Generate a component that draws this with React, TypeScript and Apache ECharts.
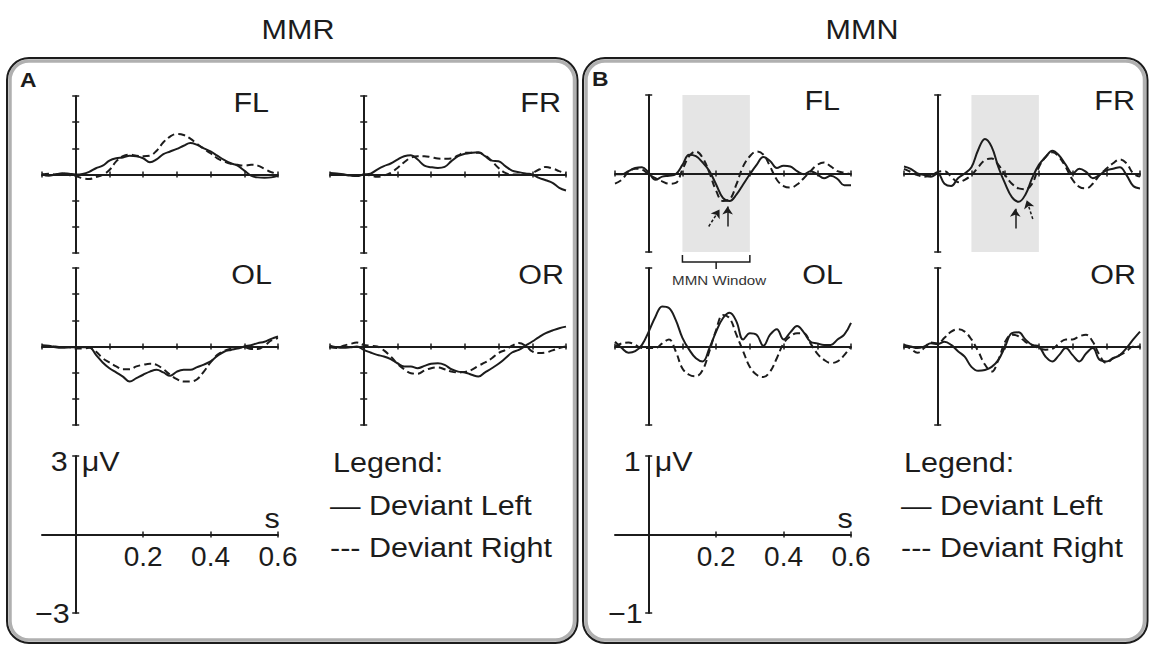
import React, { useEffect, useRef } from "react";
import * as echarts from "echarts";

// ---------- data ----------
const TIME = [-0.1, -0.08, -0.06, -0.04, -0.02, 0, 0.02, 0.04, 0.06, 0.08, 0.1, 0.12, 0.14, 0.16, 0.18, 0.2, 0.22, 0.24, 0.26, 0.28, 0.3, 0.32, 0.34, 0.36, 0.38, 0.4, 0.42, 0.44, 0.46, 0.48, 0.5, 0.52, 0.54, 0.56, 0.58, 0.6];

const SCALE_TICKS = [0.2, 0.4, 0.6];
const MMN_WINDOW = [0.1, 0.3];

// MMR (µV, ±3 scale)
const MMR_FL_LEFT = [0.02, -0.05, 0.0, 0.05, 0.03, 0.0, 0.02, 0.1, 0.24, 0.34, 0.53, 0.62, 0.65, 0.72, 0.7, 0.62, 0.47, 0.58, 0.78, 0.88, 0.98, 1.1, 1.2, 1.13, 1.0, 0.88, 0.72, 0.56, 0.43, 0.34, 0.15, -0.04, -0.11, -0.12, -0.11, -0.05];
const MMR_FL_RIGHT = [-0.01, 0.03, 0.0, 0.03, -0.02, -0.06, -0.14, -0.17, -0.1, -0.01, 0.17, 0.5, 0.7, 0.76, 0.72, 0.7, 0.72, 0.91, 1.23, 1.45, 1.55, 1.51, 1.37, 1.17, 0.98, 0.81, 0.62, 0.5, 0.41, 0.37, 0.34, 0.37, 0.34, 0.22, 0.09, 0.03];
const MMR_FR_LEFT = [0.06, 0.04, 0, -0.04, -0.06, 0, 0.03, 0.19, 0.32, 0.42, 0.57, 0.7, 0.74, 0.57, 0.34, 0.28, 0.25, 0.29, 0.51, 0.7, 0.79, 0.83, 0.85, 0.7, 0.53, 0.51, 0.32, 0.15, 0.09, 0.04, 0.0, -0.13, -0.22, -0.32, -0.51, -0.61];
const MMR_FR_RIGHT = [0.04, 0, 0, -0.03, -0.04, 0, -0.04, -0.09, -0.04, 0.06, 0.25, 0.47, 0.64, 0.7, 0.7, 0.66, 0.61, 0.6, 0.61, 0.73, 0.83, 0.83, 0.83, 0.73, 0.51, 0.25, 0.06, 0, 0, 0, 0.06, 0.19, 0.29, 0.23, 0.13, 0.04];
const MMR_OL_LEFT = [0.05, 0.03, -0.03, -0.05, -0.03, -0.03, -0.03, -0.03, -0.32, -0.61, -0.83, -0.99, -1.15, -1.34, -1.21, -1.08, -0.96, -0.89, -0.99, -1.12, -0.96, -0.89, -0.89, -0.79, -0.69, -0.57, -0.36, -0.2, -0.13, -0.08, 0, 0.05, 0.13, 0.18, 0.29, 0.38];
const MMR_OL_RIGHT = [0.03, 0, 0, -0.03, -0.03, -0.08, -0.08, -0.05, -0.19, -0.45, -0.61, -0.76, -0.87, -0.87, -0.76, -0.7, -0.66, -0.7, -0.87, -1.08, -1.25, -1.34, -1.34, -1.25, -0.96, -0.61, -0.32, -0.17, -0.08, -0.03, -0.03, -0.1, -0.1, 0.03, 0.23, 0.32];
const MMR_OR_LEFT = [0.03, -0.03, -0.05, -0.03, 0, -0.13, -0.23, -0.32, -0.38, -0.48, -0.64, -0.76, -0.76, -0.83, -0.74, -0.66, -0.64, -0.7, -0.87, -0.96, -0.99, -1.08, -1.15, -0.99, -0.83, -0.66, -0.45, -0.23, -0.13, 0.03, 0.19, 0.36, 0.51, 0.61, 0.7, 0.76];
const MMR_OR_RIGHT = [-0.03, -0.06, 0.03, 0.1, 0.15, 0.06, 0.03, 0, -0.15, -0.38, -0.66, -0.87, -1.02, -1.04, -0.92, -0.83, -0.8, -0.87, -0.96, -0.99, -0.97, -0.89, -0.74, -0.61, -0.45, -0.25, -0.13, 0.03, 0.13, 0.03, -0.19, -0.25, -0.23, -0.15, -0.06, 0];

// MMN (µV, ±1 scale)
const MMN_FL_LEFT = [-0.01, -0.01, 0.03, 0.07, 0.08, 0.01, -0.08, -0.04, -0.03, -0.01, 0.11, 0.24, 0.22, 0.14, 0.03, -0.14, -0.31, -0.35, -0.27, -0.14, -0.01, 0.11, 0.21, 0.16, 0.07, 0.1, 0.09, 0.03, -0.01, 0.03, -0.01, -0.06, -0.03, -0.07, -0.15, -0.15];
const MMN_FL_RIGHT = [-0.13, -0.08, 0.02, 0.06, 0.05, -0.01, -0.06, -0.1, -0.13, -0.12, 0.05, 0.22, 0.28, 0.2, 0.01, -0.22, -0.35, -0.33, -0.14, 0.09, 0.22, 0.28, 0.24, 0.09, -0.08, -0.16, -0.18, -0.14, -0.06, 0.03, 0.11, 0.14, 0.09, 0.03, 0.01, -0.01];
const MMN_FR_LEFT = [0.09, 0.06, 0, -0.02, -0.04, 0, -0.13, -0.16, -0.06, 0, 0.08, 0.3, 0.44, 0.34, 0.08, -0.13, -0.3, -0.36, -0.27, -0.06, 0.11, 0.21, 0.29, 0.23, 0.11, 0, 0.06, 0.02, -0.06, -0.02, 0.04, 0.06, 0.08, -0.02, -0.16, -0.19];
const MMN_FR_RIGHT = [0.06, 0.02, -0.02, -0.04, -0.03, 0.02, 0.03, -0.04, -0.11, -0.08, -0.02, 0.08, 0.17, 0.19, 0.11, -0.02, -0.13, -0.19, -0.2, -0.13, 0.08, 0.21, 0.27, 0.21, 0.08, -0.08, -0.17, -0.19, -0.13, -0.02, 0.06, 0.13, 0.18, 0.13, 0, -0.04];
const MMN_OL_LEFT = [0.06, -0.02, -0.08, -0.06, 0.02, 0.19, 0.38, 0.51, 0.49, 0.34, 0.11, -0.04, -0.15, -0.19, -0.02, 0.19, 0.36, 0.43, 0.32, 0.09, 0.17, 0.15, 0.01, 0.15, 0.22, 0.09, 0.18, 0.26, 0.18, 0.06, 0.04, 0.02, 0.02, 0.09, 0.15, 0.3];
const MMN_OL_RIGHT = [0, 0.04, 0.05, 0.02, -0.02, -0.02, -0.02, 0.04, 0.09, -0.06, -0.28, -0.36, -0.38, -0.3, -0.06, 0.21, 0.4, 0.36, 0.15, -0.06, -0.26, -0.36, -0.39, -0.32, -0.15, 0.04, 0.13, 0.17, 0.17, 0.04, -0.09, -0.17, -0.21, -0.19, -0.11, 0];
const MMN_OR_LEFT = [0.02, 0, -0.02, 0, 0.04, 0.03, 0.06, 0.02, -0.06, -0.13, -0.26, -0.31, -0.3, -0.26, -0.17, 0, 0.17, 0.18, 0.09, 0.02, 0, -0.13, -0.19, -0.11, -0.02, -0.11, -0.19, -0.09, -0.02, -0.17, -0.19, -0.15, -0.11, -0.02, 0.09, 0.19];
const MMN_OR_RIGHT = [0.02, -0.03, -0.08, -0.02, 0.05, 0.04, 0.11, 0.19, 0.22, 0.19, 0.09, -0.06, -0.23, -0.32, -0.17, 0.06, 0.15, 0.13, 0.06, 0.02, -0.02, -0.04, -0.03, 0.04, 0.09, 0.09, 0.13, 0.15, 0.06, -0.11, -0.21, -0.15, -0.11, -0.06, 0, 0];

// MMN peak arrows: [start, end] in (s, µV)
const MMN_FL_ARROW_LEFT = [[0.234, -0.675], [0.234, -0.42]];
const MMN_FL_ARROW_RIGHT = [[0.178, -0.675], [0.21, -0.46]];
const MMN_FR_ARROW_LEFT = [[0.23, -0.7], [0.23, -0.45]];
const MMN_FR_ARROW_RIGHT = [[0.282, -0.58], [0.264, -0.34]];

// ---------- layout / style ----------
const INK = "#1c1c1c";
const FONT = "'Liberation Sans', Arial, Helvetica, sans-serif";
const W = 236;
const H = 157;
const SX = 1.09;

type Panel = {
  left: number;
  top: number;
  yMax: number;
  dl?: number[];
  dr?: number[];
  win?: boolean;
  arrows?: number[][][];
  scale?: boolean;
};

const PANELS: Panel[] = [
  { left: 42, top: 96, yMax: 3, dl: MMR_FL_LEFT, dr: MMR_FL_RIGHT },
  { left: 330, top: 96, yMax: 3, dl: MMR_FR_LEFT, dr: MMR_FR_RIGHT },
  { left: 42, top: 268, yMax: 3, dl: MMR_OL_LEFT, dr: MMR_OL_RIGHT },
  { left: 330, top: 268, yMax: 3, dl: MMR_OR_LEFT, dr: MMR_OR_RIGHT },
  { left: 615, top: 95, yMax: 1, dl: MMN_FL_LEFT, dr: MMN_FL_RIGHT, win: true, arrows: [MMN_FL_ARROW_LEFT, MMN_FL_ARROW_RIGHT] },
  { left: 904, top: 95, yMax: 1, dl: MMN_FR_LEFT, dr: MMN_FR_RIGHT, win: true, arrows: [MMN_FR_ARROW_LEFT, MMN_FR_ARROW_RIGHT] },
  { left: 615, top: 268, yMax: 1, dl: MMN_OL_LEFT, dr: MMN_OL_RIGHT },
  { left: 904, top: 268, yMax: 1, dl: MMN_OR_LEFT, dr: MMN_OR_RIGHT },
  { left: 42, top: 456, yMax: 3, scale: true },
  { left: 615, top: 456, yMax: 1, scale: true },
];

function buildOption() {
  const grid: any[] = [];
  const xAxis: any[] = [];
  const yAxis: any[] = [];
  const series: any[] = [];
  const tickStyle = { color: INK, width: 1.5 };

  PANELS.forEach((p, i) => {
    grid.push({ left: p.left, top: p.top, width: W, height: H });
    const xc = {
      gridIndex: i, type: "value", min: -0.1, max: 0.6, interval: 0.1,
      splitLine: { show: false }, z: 4, silent: true, position: "bottom",
    };
    const xTickExtra = p.scale ? { customValues: SCALE_TICKS } : {};
    xAxis.push({
      ...xc,
      axisLine: { show: true, onZero: true, lineStyle: { color: INK, width: 2 } },
      axisTick: { show: true, inside: false, length: 3, lineStyle: tickStyle, ...xTickExtra },
      axisLabel: p.scale
        ? {
            show: true, customValues: SCALE_TICKS,
            // labels sit just below the zero line (middle of the grid)
            margin: 8 - H / 2,
            formatter: (v: number) => v.toFixed(1),
            fontSize: 28, color: INK, fontFamily: FONT,
          }
        : { show: false },
    });
    xAxis.push({
      ...xc,
      axisLine: { show: false, onZero: true },
      axisTick: { show: true, inside: true, length: 3, lineStyle: tickStyle, ...xTickExtra },
      axisLabel: { show: false },
    });
    const yc = {
      gridIndex: i, type: "value", min: -p.yMax, max: p.yMax,
      interval: p.scale ? p.yMax : 1,
      splitLine: { show: false }, z: 4, silent: true, position: "left",
    };
    yAxis.push({
      ...yc,
      axisLine: { show: true, onZero: true, lineStyle: { color: INK, width: 2 } },
      axisTick: { show: true, inside: false, length: 3.5, lineStyle: tickStyle },
      axisLabel: { show: false },
    });
    yAxis.push({
      ...yc,
      axisLine: { show: false, onZero: true },
      axisTick: { show: true, inside: true, length: 3.5, lineStyle: tickStyle },
      axisLabel: { show: false },
    });

    const ax = { xAxisIndex: 2 * i, yAxisIndex: 2 * i };
    if (p.win) {
      series.push({
        type: "line", ...ax, data: [], z: 1, silent: true,
        markArea: {
          silent: true,
          itemStyle: { color: "#e5e5e5" },
          data: [[{ xAxis: MMN_WINDOW[0] }, { xAxis: MMN_WINDOW[1] }]],
        },
      });
    }
    if (p.dl && p.dr) {
      series.push({
        type: "line", name: "Deviant Left", ...ax, z: 3, silent: true,
        data: TIME.map((t, k) => [t, p.dl![k]]),
        smooth: 0.4, symbol: "none", showSymbol: false,
        lineStyle: { color: INK, width: 2 },
      });
      series.push({
        type: "line", name: "Deviant Right", ...ax, z: 3, silent: true,
        data: TIME.map((t, k) => [t, p.dr![k]]),
        smooth: 0.4, symbol: "none", showSymbol: false,
        lineStyle: { color: INK, width: 2, type: [7, 4] },
      });
    }
    if (p.arrows) {
      series.push({
        type: "line", ...ax, data: [], z: 5, silent: true,
        markLine: {
          silent: true,
          symbol: ["none", "arrow"],
          symbolSize: 8,
          label: { show: false },
          lineStyle: { color: INK, width: 1.5, type: "solid" },
          data: [
            [{ coord: p.arrows[0][0] }, { coord: p.arrows[0][1] }],
            [{ coord: p.arrows[1][0], lineStyle: { type: [3, 2], color: INK, width: 1.5 } }, { coord: p.arrows[1][1] }],
          ],
        },
      });
    }
  });

  return { animation: false, backgroundColor: "#ffffff", grid, xAxis, yAxis, series };
}

function txt(text: string, x: number, y: number, size: number, align: string, extra: any = {}) {
  return {
    type: "text", x, y, scaleX: SX, silent: true,
    style: {
      text, fontSize: size, fontFamily: FONT, fill: INK,
      align, verticalAlign: "middle", ...extra,
    },
  };
}

function buildGraphics(chart: any) {
  const g: any[] = [];
  // panel frames
  const frames = [
    { x: 7, y: 58, w: 570.5, h: 585 },
    { x: 583, y: 58, w: 564.5, h: 585 },
  ];
  frames.forEach((f) => {
    g.push({ type: "rect", silent: true, shape: { x: f.x + 3, y: f.y + 3, width: f.w - 6, height: f.h - 6, r: 19 }, style: { fill: "none", stroke: "#b0b0b0", lineWidth: 3.5 } });
    g.push({ type: "rect", silent: true, shape: { x: f.x, y: f.y, width: f.w, height: f.h, r: 22 }, style: { fill: "none", stroke: INK, lineWidth: 2 } });
  });
  // titles
  g.push(txt("MMR", 298, 29, 28, "center"));
  g.push(txt("MMN", 862, 29, 28, "center"));
  g.push(txt("A", 20, 80, 21, "left", { fontWeight: "bold" }));
  g.push(txt("B", 592, 79, 21, "left", { fontWeight: "bold" }));
  // subplot names
  g.push(txt("FL", 269, 102, 28, "right"));
  g.push(txt("FR", 561, 102, 28, "right"));
  g.push(txt("OL", 272, 274, 28, "right"));
  g.push(txt("OR", 564, 274, 28, "right"));
  g.push(txt("FL", 840, 100, 28, "right"));
  g.push(txt("FR", 1135, 100, 28, "right"));
  g.push(txt("OL", 843, 274, 28, "right"));
  g.push(txt("OR", 1136, 274, 28, "right"));
  // scale bars
  const scaleLabels = [
    { gi: 8, top: "3", bot: "\u22123", legendX: 333 },
    { gi: 9, top: "1", bot: "\u22121", legendX: 904 },
  ];
  scaleLabels.forEach((s) => {
    const ai = 2 * s.gi;
    const pTop = chart.convertToPixel({ xAxisIndex: ai, yAxisIndex: ai }, [0, PANELS[s.gi].yMax]);
    const pBot = chart.convertToPixel({ xAxisIndex: ai, yAxisIndex: ai }, [0, -PANELS[s.gi].yMax]);
    const pEnd = chart.convertToPixel({ xAxisIndex: ai, yAxisIndex: ai }, [0.6, 0]);
    g.push(txt(s.top, pTop[0] - 8, pTop[1] + 5, 28, "right"));
    g.push(txt("\u03bcV", pTop[0] + 6, pTop[1] + 5, 28, "left"));
    g.push(txt(s.bot, pBot[0] - 6, pBot[1], 28, "right"));
    g.push(txt("s", pEnd[0] - 6, pEnd[1] - 17, 28, "center"));
    g.push(txt("Legend:", s.legendX, 462, 28, "left"));
    g.push(txt("\u2014 Deviant Left", s.legendX - 3, 505, 28, "left"));
    g.push(txt("--- Deviant Right", s.legendX - 3, 547, 28, "left"));
  });
  // MMN window bracket under B-FL
  const fi = 2 * 4;
  const a = chart.convertToPixel({ xAxisIndex: fi, yAxisIndex: fi }, [MMN_WINDOW[0], -1]);
  const b = chart.convertToPixel({ xAxisIndex: fi, yAxisIndex: fi }, [MMN_WINDOW[1], -1]);
  const xm = (a[0] + b[0]) / 2;
  const yb = a[1];
  g.push({
    type: "polyline", silent: true,
    shape: { points: [[a[0], yb + 3], [a[0], yb + 10], [b[0], yb + 10], [b[0], yb + 3]] },
    style: { fill: "none", stroke: INK, lineWidth: 1.5 },
  });
  g.push({
    type: "line", silent: true,
    shape: { x1: xm, y1: yb + 10, x2: xm, y2: yb + 17 },
    style: { stroke: INK, lineWidth: 1.5 },
  });
  g.push({
    type: "text", x: xm + 3, y: yb + 28, scaleX: 1.12, silent: true,
    style: { text: "MMN Window", fontSize: 13.5, fontFamily: FONT, fill: "#333", align: "center", verticalAlign: "middle" },
  });
  return g;
}

export default function App() {
  const ref = useRef<HTMLDivElement>(null);
  useEffect(() => {
    if (!ref.current) return;
    const chart = echarts.init(ref.current, undefined, { renderer: "svg" });
    chart.setOption(buildOption() as any);
    chart.setOption({ graphic: buildGraphics(chart) } as any);
    return () => chart.dispose();
  }, []);
  return (
    <div
      ref={ref}
      style={{ position: "fixed", left: 0, top: 0, width: 1150, height: 646, background: "#fff" }}
    />
  );
}
